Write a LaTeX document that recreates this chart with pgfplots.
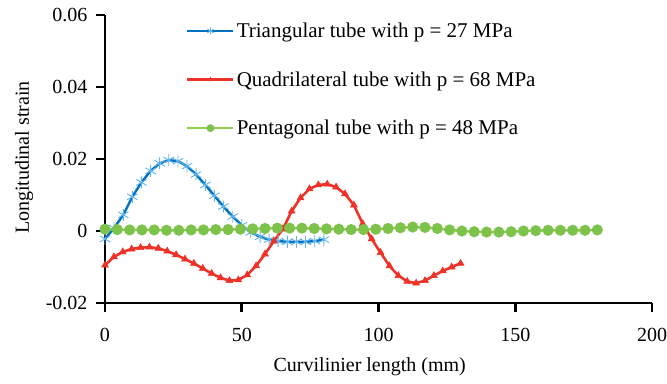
\documentclass[border=0pt]{standalone}
\usepackage{pgfplots}
\pgfplotsset{compat=1.18}
\usepackage{fontspec}
\setmainfont{Liberation Serif}
\definecolor{bline}{RGB}{0,112,192}
\definecolor{bmark}{RGB}{95,180,235}
\definecolor{rline}{RGB}{238,50,40}
\definecolor{gline}{RGB}{146,205,80}
\definecolor{gmark}{RGB}{125,195,75}
\begin{document}
\begin{tikzpicture}[font=\fontsize{20bp}{24bp}\selectfont]
\useasboundingbox (-105bp,-81bp) rectangle (562bp,303bp);
\begin{axis}[
  at={(0,0)}, anchor=south west,
  scale only axis, width=547bp, height=288bp,
  xmin=0, xmax=200, ymin=-0.02, ymax=0.06,
  axis x line=bottom, axis y line=left,
  axis line style={-, line width=2.8bp, black},
  tick align=outside,
  major tick length=9bp,
  every tick/.style={black, line width=2.6bp},
  xtick={0,50,100,150,200},
  ytick={-0.02,0,0.02,0.04,0.06},
  yticklabels={-0.02,0,0.02,0.04,0.06},
  scaled y ticks=false,
  /pgf/number format/assume math mode=true,
  xticklabel style={anchor=center, yshift=-23bp},
  yticklabel style={anchor=east, xshift=-5bp},
  xlabel={Curvilinier length (mm)},
  ylabel={Longitudinal strain},
  xlabel style={at={(axis description cs:0.484,-0.22)}, anchor=center},
  ylabel style={at={(axis description cs:-0.148,0.505)}, anchor=center, rotate=0},
  clip=false,
  legend cell align=left,
  legend style={draw=none, fill=none, inner sep=0pt, row sep=28.5bp,
    nodes={inner sep=2bp}, font=\fontsize{21bp}{24bp}\selectfont,
    at={(axis description cs:0.148,0.98)}, anchor=north west},
  legend image code/.code={\draw[mark repeat=2,mark phase=2,#1,every mark/.append style={scale=0.6}] plot coordinates {(0bp,0bp) (23bp,0bp) (46bp,0bp)};},
]
\addplot[color=bline, line width=2.4bp, mark=asterisk, mark size=6bp,
  mark options={color=bmark, line width=0.9bp}] coordinates {
(0,-0.0022) (3.3,0.0008) (6.7,0.0045) (10,0.0095) (13.3,0.0135) (16.7,0.0167)
(20,0.0188) (23.3,0.0197) (26.7,0.0194) (30,0.0180) (33.3,0.0157) (36.7,0.0128)
(40,0.0098) (43.3,0.0068) (46.7,0.0040) (50,0.0016) (53.3,-0.0004) (56.7,-0.0016)
(60,-0.0024) (63.3,-0.0028) (66.7,-0.0030) (70,-0.0030) (73.3,-0.0030) (76.7,-0.0028)
(80,-0.0024)};
\addlegendentry{Triangular tube with p = 27 MPa}
\addplot[color=rline, line width=2.6bp, mark=triangle*, mark size=4bp,
  mark options={fill=rline, draw=rline, line width=0.5bp}] coordinates {
(0,-0.0095) (3.25,-0.0072) (6.5,-0.0058) (9.75,-0.0050) (13,-0.0046) (16.25,-0.0045)
(19.5,-0.0048) (22.75,-0.0056) (26,-0.0066) (29.25,-0.0078) (32.5,-0.0090) (35.75,-0.0104)
(39,-0.0118) (42.25,-0.0130) (45.5,-0.0138) (48.75,-0.0136) (52,-0.0122) (55.25,-0.0097)
(58.5,-0.0064) (61.75,-0.0028) (65,0.0005) (68.25,0.0055) (71.5,0.0092) (74.75,0.0117)
(78,0.0128) (81.25,0.0130) (84.5,0.0122) (87.75,0.0103) (91,0.0072) (94.25,0.0020)
(97.5,-0.0022) (100.75,-0.0060) (104,-0.0097) (107.25,-0.0124) (110.5,-0.0140) (113.75,-0.0145)
(117,-0.0138) (120.25,-0.0124) (123.5,-0.0111) (126.75,-0.0100) (130,-0.0090)};
\addlegendentry{Quadrilateral tube with p = 68 MPa}
\addplot[color=gline, line width=2.6bp, mark=*, mark size=4.2bp,
  mark options={fill=gmark, draw=gmark}] coordinates {
(0,0.0005) (4.5,0.0004) (9,0.0003) (13.5,0.0003) (18,0.0003) (22.5,0.0002)
(27,0.0002) (31.5,0.0003) (36,0.0003) (40.5,0.0004) (45,0.0004) (49.5,0.0005)
(54,0.0006) (58.5,0.0007) (63,0.0008) (67.5,0.0008) (72,0.0008) (76.5,0.0007)
(81,0.0006) (85.5,0.0005) (90,0.0004) (94.5,0.0004) (99,0.0005) (103.5,0.0007)
(108,0.0009) (112.5,0.0011) (117,0.0010) (121.5,0.0007) (126,0.0003) (130.5,0.0000)
(135,-0.0002) (139.5,-0.0003) (144,-0.0003) (148.5,-0.0002) (153,0.0000) (157.5,0.0001)
(162,0.0002) (166.5,0.0002) (171,0.0002) (175.5,0.0002) (180,0.0003)};
\addlegendentry{Pentagonal tube with p = 48 MPa}
\end{axis}
\end{tikzpicture}
\end{document}
